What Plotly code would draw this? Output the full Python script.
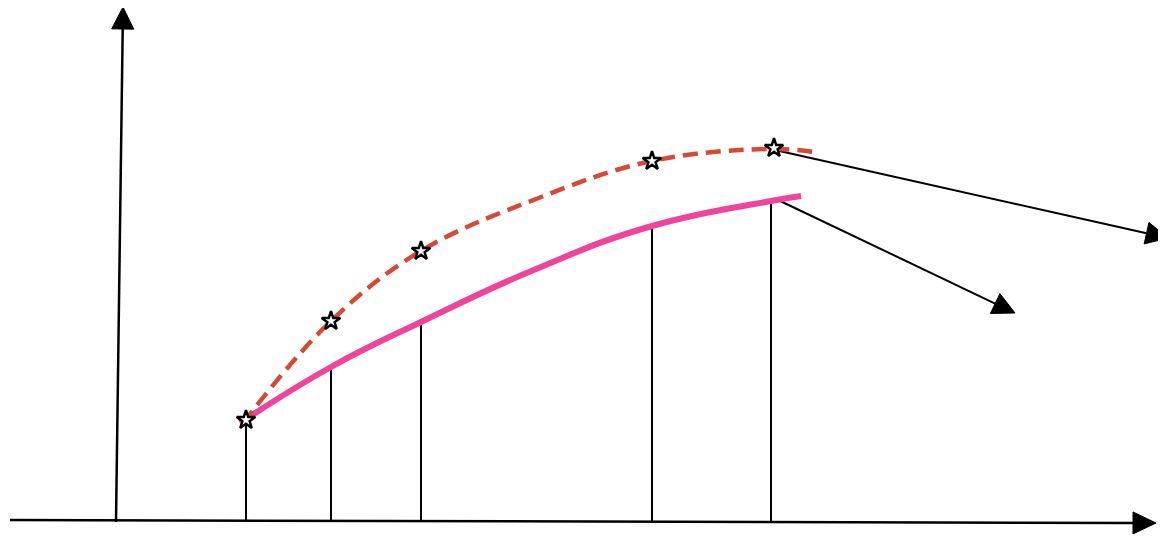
import plotly.graph_objects as go
import math

# Diagram coordinates (canvas units, y measured downward)
dash_x = [243, 331, 421, 536, 652, 774, 820]
dash_y = [423, 321, 251, 199, 161, 149, 153]
star_x = [246, 331, 421, 652, 774]
star_y = [420, 321, 251, 161, 148]
pink_x = [240, 331, 421, 536, 652, 771, 801]
pink_y = [423, 367, 322, 269, 226, 201, 196]
drop_x = [246, 331, 421, 652, 771]
drop_top = [426, 367, 322, 226, 202]
base_y = 521

# axes / arrows: (start x, start y, tip x, tip y)
arrows = [
    (116, 522, 123, 7),
    (10, 520, 1156, 523),
    (775, 150, 1168, 238),
    (776, 199, 1015, 313),
]
arrow_widths = [2.5, 2.5, 2.0, 2.0]
head_len = [22, 23, 22, 22]
head_half = [11, 11, 11, 11]

fig = go.Figure()

# drop lines
for x, t in zip(drop_x, drop_top):
    fig.add_trace(go.Scatter(x=[x, x], y=[t, base_y], mode="lines",
                             line=dict(color="black", width=2), hoverinfo="skip"))

# arrows
for (x0, y0, x1, y1), w, L, H in zip(arrows, arrow_widths, head_len, head_half):
    dx, dy = x1 - x0, y1 - y0
    n = math.hypot(dx, dy)
    ux, uy = dx / n, dy / n
    bx, by = x1 - ux * L, y1 - uy * L
    px, py = -uy, ux
    fig.add_trace(go.Scatter(x=[x0, bx], y=[y0, by], mode="lines",
                             line=dict(color="black", width=w), hoverinfo="skip"))
    fig.add_trace(go.Scatter(x=[x1, bx + px * H, bx - px * H, x1],
                             y=[y1, by + py * H, by - py * H, y1],
                             mode="lines", fill="toself", fillcolor="black",
                             line=dict(color="black", width=1), hoverinfo="skip"))

# pink solid curve
fig.add_trace(go.Scatter(x=pink_x, y=pink_y, mode="lines",
                         line=dict(color="#f0449c", width=6, shape="spline", smoothing=1.3),
                         hoverinfo="skip"))
# dashed red curve
fig.add_trace(go.Scatter(x=dash_x, y=dash_y, mode="lines",
                         line=dict(color="#d64a35", width=4.5, dash="15px,8px",
                                   shape="spline", smoothing=1.1),
                         hoverinfo="skip"))
# stars
fig.add_trace(go.Scatter(x=star_x, y=star_y, mode="markers",
                         marker=dict(symbol="star", size=14, color="white",
                                     line=dict(color="black", width=2.4)),
                         hoverinfo="skip"))

# page body has an 8px margin: shift the ranges so canvas units match the window
fig.update_layout(
    width=1166, height=536,
    margin=dict(l=0, r=0, t=0, b=0),
    paper_bgcolor="white", plot_bgcolor="white",
    showlegend=False,
    xaxis=dict(range=[8, 1174], visible=False, fixedrange=True),
    yaxis=dict(range=[544, 8], visible=False, fixedrange=True),
)

fig.write_html("out.html")
